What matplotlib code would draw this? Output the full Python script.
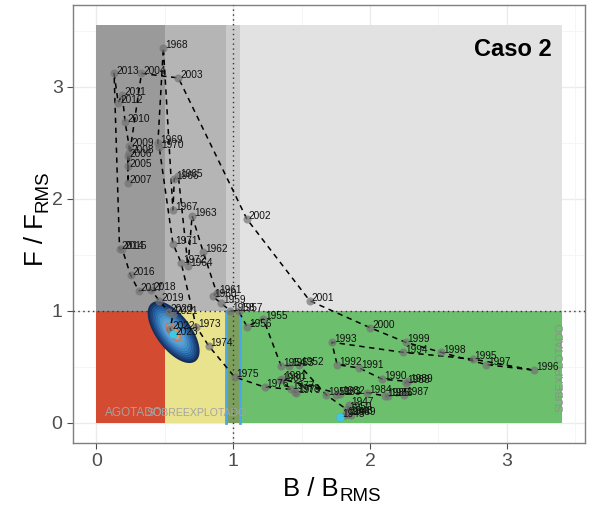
import numpy as np
import matplotlib
matplotlib.use("Agg")
import matplotlib.pyplot as plt

plt.rcParams['font.family'] = ['Liberation Sans', 'DejaVu Sans']

# ---------------- data ----------------
years = list(range(1945, 2024))
b_ratio = [1.78, 1.82, 1.85, 1.84, 1.86, 1.83, 1.68, 1.48, 1.41, 1.35,
           1.22, 1.10, 1.04, 0.98, 0.91, 0.85, 0.88, 0.78, 0.70, 0.67,
           0.60, 0.57, 0.56, 0.49, 0.45, 0.46, 0.56, 0.62, 0.73, 0.82,
           1.01, 1.23, 1.42, 1.45, 1.46, 1.34, 1.36, 1.78, 1.75, 1.98,
           2.11, 2.13, 2.25, 2.26, 2.28, 2.09, 1.92, 1.76, 1.72, 2.24,
           2.75, 3.20, 2.85, 2.52, 2.26, 2.00, 1.56, 1.10, 0.60, 0.33,
           0.23, 0.23, 0.23, 0.24, 0.24, 0.21, 0.19, 0.16, 0.13, 0.17,
           0.19, 0.25, 0.31, 0.40, 0.46, 0.53, 0.56, 0.54, 0.56]
f_ratio = [0.05, 0.07, 0.16, 0.08, 0.07, 0.12, 0.25, 0.52, 0.51, 0.51,
           0.93, 0.86, 1.00, 1.00, 1.07, 1.13, 1.16, 1.53, 1.85, 1.40,
           2.20, 2.18, 1.90, 3.35, 2.50, 2.46, 1.60, 1.43, 0.86, 0.69,
           0.41, 0.32, 0.30, 0.28, 0.27, 0.38, 0.39, 0.26, 0.25, 0.27,
           0.24, 0.24, 0.25, 0.36, 0.37, 0.39, 0.49, 0.52, 0.72, 0.63,
           0.57, 0.47, 0.52, 0.63, 0.72, 0.85, 1.09, 1.82, 3.08, 3.12,
           2.29, 2.38, 2.14, 2.41, 2.47, 2.69, 2.93, 2.86, 3.12, 1.55,
           1.55, 1.32, 1.18, 1.19, 1.09, 0.99, 0.97, 0.84, 0.79]

# uncertainty of last year (bivariate normal summary)
last_mean = (0.565, 0.81)
last_sd = (0.060, 0.088)
last_rho = -0.64

x_ticks = [0, 1, 2, 3]
y_ticks = [0, 1, 2, 3]
zone_names = ["AGOTADO", "SOBREEXPLOTADO", "SUBEXPLOTADO"]
title = "Caso 2"
x_title = ("B / B", "RMS")
y_title = ("F / F", "RMS")

# ---------------- figure ----------------
W, H = 589, 511
fig = plt.figure(figsize=(W/100, H/100), dpi=100)
ax = fig.add_axes([0.124, 0.133, 0.869, 0.857])
xlim = (-0.17, 3.57)
ylim = (-0.18, 3.73)
ax.set_xlim(*xlim)
ax.set_ylim(*ylim)

# grid
for v in [0, 1, 2, 3]:
    ax.axvline(v, color='#ebebeb', lw=1.0, zorder=0)
    ax.axhline(v, color='#ebebeb', lw=1.0, zorder=0)
for v in [0.5, 1.5, 2.5, 3.5]:
    ax.axvline(v, color='#f4f4f4', lw=0.6, zorder=0)
    ax.axhline(v, color='#f4f4f4', lw=0.6, zorder=0)

xmax_zone = 3.4
ymax_zone = 3.55
def rect(x0, x1, y0, y1, c, z=1):
    ax.fill_between([x0, x1], y0, y1, color=c, lw=0, zorder=z)

rect(0, 0.5, 1, ymax_zone, '#9a9a9a')
rect(0.5, 0.95, 1, ymax_zone, '#b5b5b5')
rect(0.95, 1.05, 1, ymax_zone, '#cbcbcb')
rect(1.05, xmax_zone, 1, ymax_zone, '#e2e2e2')
rect(0, 0.5, 0, 1, '#d34b31')
rect(0.5, 0.95, 0, 1, '#e9e38d')
rect(0.95, 1.05, 0, 1, '#7c9f5e')
rect(1.05, xmax_zone, 0, 1, '#6cbf6c')
ax.plot([0.95, 0.95], [0, 1], color='#4aa8e6', lw=2, zorder=2)
ax.plot([1.05, 1.05], [0, 1], color='#4aa8e6', lw=2, zorder=2)

ax.axvline(1, color='#333333', lw=1.0, ls=(0, (1, 2.5)), zorder=3)
ax.axhline(1, color='#333333', lw=1.0, ls=(0, (1, 2.5)), zorder=3)

# zone labels
ax.text(0.06, 0.09, zone_names[0], color='#a3a3a3', fontsize=8.5, ha='left', va='center', zorder=4)
ax.text(0.37, 0.09, zone_names[1], color='#a3a3a3', fontsize=7.6, ha='left', va='center', zorder=4)
ax.text(3.39, 0.50, zone_names[2], color='#8f8f8f', fontsize=8, ha='center', va='center',
        rotation=90, zorder=4)

# contours for the last year
gx = np.linspace(0.2, 0.95, 400)
gy = np.linspace(0.3, 1.35, 400)
GX, GY = np.meshgrid(gx, gy)
zx = (GX - last_mean[0]) / last_sd[0]
zy = (GY - last_mean[1]) / last_sd[1]
m2 = (zx**2 - 2*last_rho*zx*zy + zy**2) / (1 - last_rho**2)
dens = np.exp(-0.5 * m2)
dlev = [3.0, 2.8, 2.6, 2.4, 2.2, 2.0, 1.75, 1.5, 1.2, 0.9, 0.6, 0.3]
levels = [np.exp(-0.5*d*d) for d in dlev]
cf_cols = plt.cm.Blues(np.linspace(0.8, 0.45, len(levels)))
ax.contourf(GX, GY, dens, levels=levels + [1.01], colors=cf_cols, zorder=5)
line_cols = ['#162f5a', '#1b3b6e', '#204882', '#255594', '#2a62a4', '#3170b3',
             '#3d7fc0', '#4c8fcb', '#5c9fd5', '#d2704f', '#e3a054', '#f0d070']
ax.contour(GX, GY, dens, levels=levels, colors=line_cols,
           linewidths=[1.9, 1.4, 1.2, 1.1, 1.0, 1.0, 1.0, 0.9, 0.9, 0.8, 0.8, 0.8], zorder=6)

# trajectory
ax.plot(b_ratio, f_ratio, color='black', lw=1.1, ls=(0, (3.5, 3)), zorder=7)
ax.scatter(b_ratio, f_ratio, s=34, color='#737373', alpha=0.7, lw=0, zorder=8)
ax.scatter([b_ratio[0], b_ratio[-1]], [f_ratio[0], f_ratio[-1]], s=34, color='#3ec8e8', lw=0, zorder=9)
for yr, b, f in zip(years, b_ratio, f_ratio):
    ax.annotate(str(yr), (b, f), xytext=(1.5, 2), textcoords='offset points',
                fontsize=7.3, color='#111111', ha='left', va='center', zorder=10)

ax.text(3.33, 3.33, title, fontsize=17, fontweight='bold', ha='right', va='center', zorder=11)

ax.set_xticks(x_ticks)
ax.set_yticks(y_ticks)
ax.tick_params(axis='both', labelsize=14, colors='#4d4d4d', length=4, width=0.8, labelcolor='#4d4d4d')
for s in ax.spines.values():
    s.set_color('#7f7f7f')
    s.set_linewidth(1.0)

# axis titles with large subscripts, positioned in pixels
main_fs, sub_fs = 18.5, 13.5
sub_drop = 4.5  # px
renderer = fig.canvas.get_renderer()
tx1 = fig.text(0, 0, x_title[0], fontsize=main_fs, color='black')
tx2 = fig.text(0, 0, x_title[1], fontsize=sub_fs, color='black')
w1 = tx1.get_window_extent(renderer).width
w2 = tx2.get_window_extent(renderer).width
cx = 332.0
base_x = 15.0
x0 = cx - (w1 + w2 + 1) / 2
tx1.set_position((x0 / W, base_x / H)); tx1.set_va('baseline')
tx2.set_position(((x0 + w1 + 1) / W, (base_x - sub_drop) / H)); tx2.set_va('baseline')

ty1 = fig.text(0, 0, y_title[0], fontsize=main_fs, rotation=90, color='black')
ty2 = fig.text(0, 0, y_title[1], fontsize=sub_fs, rotation=90, color='black')
h1 = ty1.get_window_extent(renderer).height
h2 = ty2.get_window_extent(renderer).height
cy = 511 - 218.0
base_y = 43.0
y0 = cy - (h1 + h2 + 1) / 2
ty1.set_rotation_mode('anchor')
ty1.set_ha('left'); ty1.set_va('baseline')
ty1.set_position((base_y / W, y0 / H))
ty2.set_rotation_mode('anchor')
ty2.set_ha('left'); ty2.set_va('baseline')
ty2.set_position(((base_y + sub_drop) / W, (y0 + h1 + 1) / H))

fig.savefig('out.png', dpi=100)
